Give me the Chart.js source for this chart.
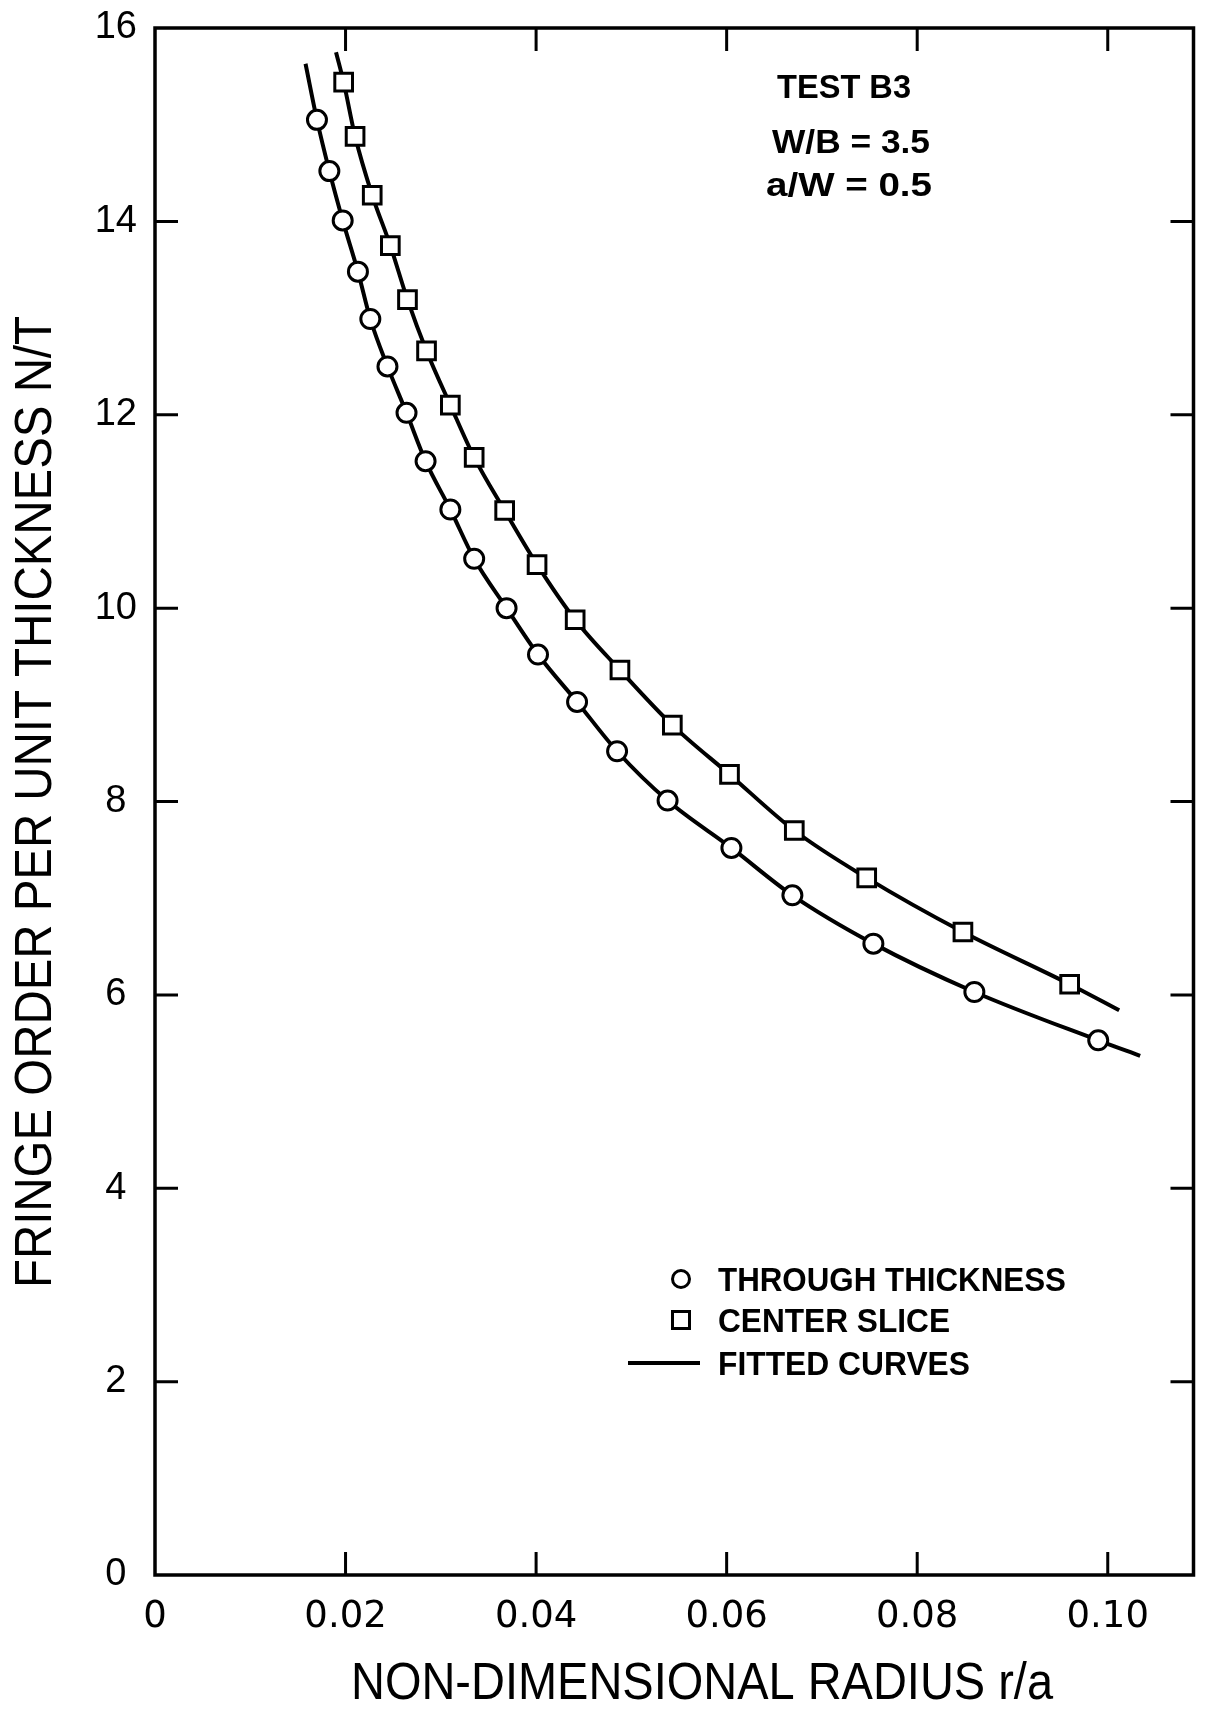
<!DOCTYPE html>
<html><head><meta charset="utf-8">
<script src="https://cdn.jsdelivr.net/npm/chart.js@4.4.1/dist/chart.umd.min.js"></script>
<style>html,body{margin:0;padding:0;background:#fff;overflow:hidden}canvas{display:block}</style>
</head><body>
<canvas id="c" width="1209" height="1711"></canvas>
<script>
// ---- data ----
const xTickValues = [0, 0.02, 0.04, 0.06, 0.08, 0.10];
const yTickValues = [0, 2, 4, 6, 8, 10, 12, 14, 16];

// THROUGH THICKNESS (circles)
const rThrough  = [0.0170, 0.0183, 0.0197, 0.0213, 0.0226, 0.0244, 0.0264, 0.0284, 0.0310, 0.0335,
                   0.0369, 0.0402, 0.0443, 0.0485, 0.0538, 0.0605, 0.0669, 0.0754, 0.0860, 0.0990];
const ntThrough = [15.05, 14.52, 14.01, 13.48, 12.99, 12.50, 12.02, 11.52, 11.02, 10.51,
                   10.00, 9.52, 9.03, 8.52, 8.01, 7.52, 7.03, 6.53, 6.03, 5.53];

// CENTER SLICE (squares)
const rCenter  = [0.0198, 0.0210, 0.0228, 0.0247, 0.0265, 0.0285, 0.0310, 0.0335, 0.0367,
                  0.0401, 0.0441, 0.0488, 0.0543, 0.0603, 0.0671, 0.0747, 0.0848, 0.0960];
const ntCenter = [15.44, 14.88, 14.27, 13.75, 13.19, 12.66, 12.10, 11.56, 11.01,
                  10.45, 9.88, 9.36, 8.79, 8.28, 7.70, 7.21, 6.65, 6.11];

// FITTED CURVES (drawn through the points, with the visible end points of each curve)
const fitThroughR  = [0.0158, 0.0170, 0.0183, 0.0197, 0.0213, 0.0226, 0.0244, 0.0264, 0.0284, 0.0310, 0.0335,
                      0.0369, 0.0402, 0.0443, 0.0485, 0.0538, 0.0605, 0.0669, 0.0754, 0.0860, 0.0990, 0.1034];
const fitThroughNT = [15.63, 15.05, 14.52, 14.01, 13.48, 12.99, 12.50, 12.02, 11.52, 11.02, 10.51,
                      10.00, 9.52, 9.03, 8.52, 8.01, 7.52, 7.03, 6.53, 6.03, 5.53, 5.37];
const fitCenterR   = [0.0190, 0.0198, 0.0210, 0.0228, 0.0247, 0.0265, 0.0285, 0.0310, 0.0335, 0.0367,
                      0.0401, 0.0441, 0.0488, 0.0543, 0.0603, 0.0671, 0.0747, 0.0848, 0.0960, 0.1012];
const fitCenterNT  = [15.75, 15.44, 14.88, 14.27, 13.75, 13.19, 12.66, 12.10, 11.56, 11.01,
                      10.45, 9.88, 9.36, 8.79, 8.28, 7.70, 7.21, 6.65, 6.11, 5.84];

const legendLabels = ['THROUGH THICKNESS', 'CENTER SLICE', 'FITTED CURVES'];
const annotationLines = ['TEST B3', 'W/B = 3.5', 'a/W = 0.5'];
const xTitle = 'NON-DIMENSIONAL RADIUS r/a';
const yTitle = 'FRINGE ORDER PER UNIT THICKNESS N/T';

// ---- helpers ----
const pts = (xs, ys) => xs.map((v, i) => ({x: v, y: ys[i]}));
const FONT = '"Liberation Sans", Arial, sans-serif';
const FONT2 = '"DejaVu Sans", "Liberation Sans", sans-serif';

function fitText(ctx, text, x, y, font, targetW, align) {
  ctx.save();
  ctx.font = font;
  const w = ctx.measureText(text).width;
  const s = targetW ? targetW / w : 1;
  ctx.translate(x, y);
  ctx.scale(s, 1);
  ctx.textAlign = align || 'left';
  ctx.textBaseline = 'alphabetic';
  ctx.fillText(text, 0, 0);
  ctx.restore();
}

const framePlugin = {
  id: 'frame',
  afterDraw(chart) {
    const {ctx, chartArea: a, scales: {x, y}} = chart;
    ctx.save();
    ctx.strokeStyle = '#000';
    ctx.fillStyle = '#000';
    ctx.lineWidth = 3.5;
    ctx.strokeRect(a.left, a.top, a.right - a.left, a.bottom - a.top);
    ctx.lineWidth = 3;
    const tl = 23;
    xTickValues.forEach(v => {
      if (v === 0) return;
      const px = x.getPixelForValue(v);
      ctx.beginPath();
      ctx.moveTo(px, a.bottom); ctx.lineTo(px, a.bottom - tl);
      ctx.moveTo(px, a.top); ctx.lineTo(px, a.top + tl);
      ctx.stroke();
    });
    yTickValues.forEach(v => {
      if (v === 0 || v === 16) return;
      const py = y.getPixelForValue(v);
      ctx.beginPath();
      ctx.moveTo(a.left, py); ctx.lineTo(a.left + tl, py);
      ctx.moveTo(a.right, py); ctx.lineTo(a.right - tl, py);
      ctx.stroke();
    });

    // axis titles
    fitText(ctx, xTitle, 702, 1699, '52px ' + FONT, 702, 'center');
    ctx.save();
    ctx.translate(51, 802);
    ctx.rotate(-Math.PI / 2);
    fitText(ctx, yTitle, 0, 0, '52px ' + FONT, 972, 'center');
    ctx.restore();

    // annotation block
    fitText(ctx, annotationLines[0], 777, 98, 'bold 33px ' + FONT, 134, 'left');
    fitText(ctx, annotationLines[1], 772, 153, 'bold 33px ' + FONT, 158, 'left');
    fitText(ctx, annotationLines[2], 766, 196, 'bold 33px ' + FONT, 166, 'left');

    // legend
    const mx = 681;
    const rows = [1279, 1320, 1363];
    ctx.lineWidth = 3;
    ctx.beginPath(); ctx.arc(mx, rows[0], 8.5, 0, Math.PI * 2); ctx.stroke();
    ctx.strokeRect(mx - 8.5, rows[1] - 8.5, 17, 17);
    ctx.lineWidth = 4;
    ctx.beginPath(); ctx.moveTo(628, rows[2]); ctx.lineTo(700, rows[2]); ctx.stroke();
    fitText(ctx, legendLabels[0], 718, rows[0] + 12, 'bold 33px ' + FONT, 348, 'left');
    fitText(ctx, legendLabels[1], 718, rows[1] + 12, 'bold 33px ' + FONT, 232, 'left');
    fitText(ctx, legendLabels[2], 718, rows[2] + 12, 'bold 33px ' + FONT, 252, 'left');
    ctx.restore();
  }
};

new Chart(document.getElementById('c'), {
  type: 'scatter',
  data: {
    datasets: [
      {label: legendLabels[0], data: pts(rThrough, ntThrough), showLine: false, order: 0,
       pointStyle: 'circle', pointRadius: 9.5, pointBorderWidth: 3,
       pointBorderColor: '#000', pointBackgroundColor: '#fff'},
      {label: legendLabels[1], data: pts(rCenter, ntCenter), showLine: false, order: 0,
       pointStyle: 'rect', pointRadius: 12.5, pointBorderWidth: 3,
       pointBorderColor: '#000', pointBackgroundColor: '#fff'},
      {label: legendLabels[2], data: pts(fitThroughR, fitThroughNT), showLine: true, order: 1,
       borderColor: '#000', borderWidth: 4, pointRadius: 0, cubicInterpolationMode: 'monotone'},
      {label: legendLabels[2], data: pts(fitCenterR, fitCenterNT), showLine: true, order: 1,
       borderColor: '#000', borderWidth: 4, pointRadius: 0, cubicInterpolationMode: 'monotone'}
    ]
  },
  options: {
    responsive: false,
    animation: false,
    devicePixelRatio: 1,
    layout: {padding: {top: 28, right: 13, left: 0, bottom: 0}},
    plugins: {legend: {display: false}, tooltip: {enabled: false}},
    scales: {
      x: {
        type: 'linear', min: 0, max: 0.109,
        grid: {display: false, drawTicks: false},
        border: {display: false},
        afterBuildTicks: s => { s.ticks = xTickValues.map(v => ({value: v})); },
        afterFit: s => { s.height = 136; s.paddingLeft = 0; s.paddingRight = 0; },
        ticks: {
          padding: 20, color: '#000', autoSkip: false, maxRotation: 0,
          font: {family: FONT2, size: 37},
          callback: v => (v === 0 ? '0' : v.toFixed(2))
        }
      },
      y: {
        type: 'linear', min: 0, max: 16,
        grid: {display: false, drawTicks: false},
        border: {display: false},
        afterBuildTicks: s => { s.ticks = yTickValues.map(v => ({value: v})); },
        afterFit: s => { s.width = 155; s.paddingTop = 0; s.paddingBottom = 0; },
        ticks: {
          padding: 18, crossAlign: 'center', color: '#000', autoSkip: false,
          font: {family: FONT, size: 38},
          callback: v => String(v)
        }
      }
    }
  },
  plugins: [framePlugin]
});
</script>
</body></html>
